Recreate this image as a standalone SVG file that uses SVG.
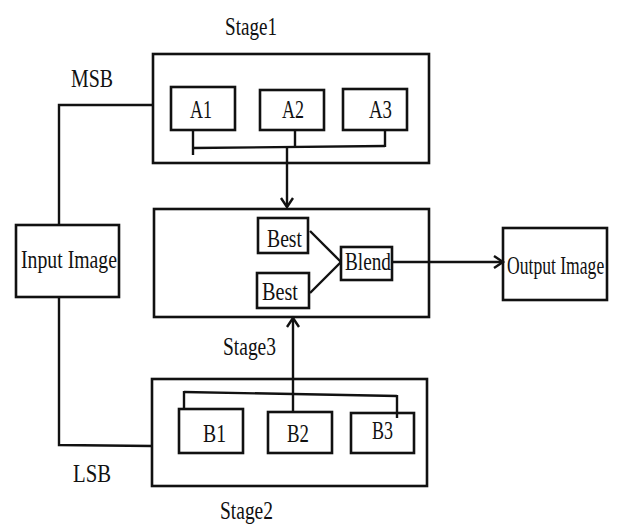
<svg xmlns="http://www.w3.org/2000/svg" width="622" height="527" viewBox="0 0 622 527">
<style>
rect{fill:none;stroke:#111;stroke-width:2.6}
.c line,.c polyline{fill:none;stroke:#111;stroke-width:2.4}
text{font-family:"Liberation Serif","Times New Roman",serif;font-size:26px;fill:#111}
</style>
<defs>
<marker id="ah" markerUnits="userSpaceOnUse" markerWidth="14" markerHeight="16" refX="10" refY="7" orient="auto">
<path d="M1,1 L10,7 L1,13" fill="none" stroke="#111" stroke-width="2.4"/>
</marker>
</defs>
<rect x="0" y="0" width="622" height="527" style="fill:#fff;stroke:none"/>
<g id="stage1">
<rect x="153" y="54" width="276" height="109"/>
<text x="225" y="35" textLength="52" lengthAdjust="spacingAndGlyphs">Stage1</text>
</g>
<g id="msb-label"><text x="71" y="87" textLength="42" lengthAdjust="spacingAndGlyphs">MSB</text></g>
<g id="a1"><rect x="171" y="87" width="64" height="43"/><text x="190" y="118" textLength="22" lengthAdjust="spacingAndGlyphs">A1</text></g>
<g id="a2"><rect x="260" y="90" width="64" height="40"/><text x="282" y="118" textLength="22" lengthAdjust="spacingAndGlyphs">A2</text></g>
<g id="a3"><rect x="343" y="89" width="64" height="41"/><text x="369" y="118" textLength="23" lengthAdjust="spacingAndGlyphs">A3</text></g>
<g id="input"><rect x="16" y="225" width="103" height="72"/><text x="21" y="268" textLength="96" lengthAdjust="spacingAndGlyphs">Input Image</text></g>
<g id="stage3">
<rect x="154" y="209" width="275" height="108"/>
<text x="223" y="355" textLength="53" lengthAdjust="spacingAndGlyphs">Stage3</text>
</g>
<g id="best1"><rect x="258" y="218" width="50" height="35"/><text x="267" y="247" textLength="35" lengthAdjust="spacingAndGlyphs">Best</text></g>
<g id="best2"><rect x="257" y="273" width="52" height="35"/><text x="262" y="300" textLength="36" lengthAdjust="spacingAndGlyphs">Best</text></g>
<g id="blend"><rect x="341" y="247" width="51" height="33"/><text x="345" y="270" textLength="46" lengthAdjust="spacingAndGlyphs">Blend</text></g>
<g id="output"><rect x="503" y="228" width="104" height="72"/><text transform="translate(507,274) scale(0.88,1.3)" x="0" y="0" style="font-size:20px">Output Image</text></g>
<g id="stage2">
<rect x="152" y="379" width="275" height="107"/>
<text x="220" y="519" textLength="53" lengthAdjust="spacingAndGlyphs">Stage2</text>
</g>
<g id="b1"><rect x="179" y="409" width="64" height="44"/><text x="203" y="442" textLength="23" lengthAdjust="spacingAndGlyphs">B1</text></g>
<g id="b2"><rect x="268" y="412" width="64" height="41"/><text x="287" y="442" textLength="22" lengthAdjust="spacingAndGlyphs">B2</text></g>
<g id="b3"><rect x="351" y="413" width="63" height="40"/><text x="372" y="439" textLength="21" lengthAdjust="spacingAndGlyphs">B3</text></g>
<g id="lsb-label"><text x="73" y="482" textLength="38" lengthAdjust="spacingAndGlyphs">LSB</text></g>
<g id="connectors" class="c">
<polyline points="153,105 59,105 59,225"/>
<polyline points="59,297 59,445 152,446"/>
<line x1="193" y1="130" x2="193" y2="155"/>
<line x1="193" y1="148" x2="385" y2="146"/>
<line x1="385" y1="130" x2="385" y2="147"/>
<line x1="295" y1="130" x2="295" y2="148"/>
<line x1="287" y1="147" x2="287" y2="207" marker-end="url(#ah)"/>
<line x1="310" y1="231" x2="341" y2="262"/>
<line x1="310" y1="293" x2="341" y2="262"/>
<line x1="392" y1="262" x2="503" y2="262" marker-end="url(#ah)"/>
<line x1="184" y1="392" x2="397" y2="396"/>
<line x1="184" y1="391" x2="184" y2="408"/>
<line x1="397" y1="395" x2="397" y2="418"/>
<line x1="293" y1="394" x2="293" y2="412"/>
<line x1="293" y1="394" x2="293" y2="318" marker-end="url(#ah)"/>
</g>
</svg>
